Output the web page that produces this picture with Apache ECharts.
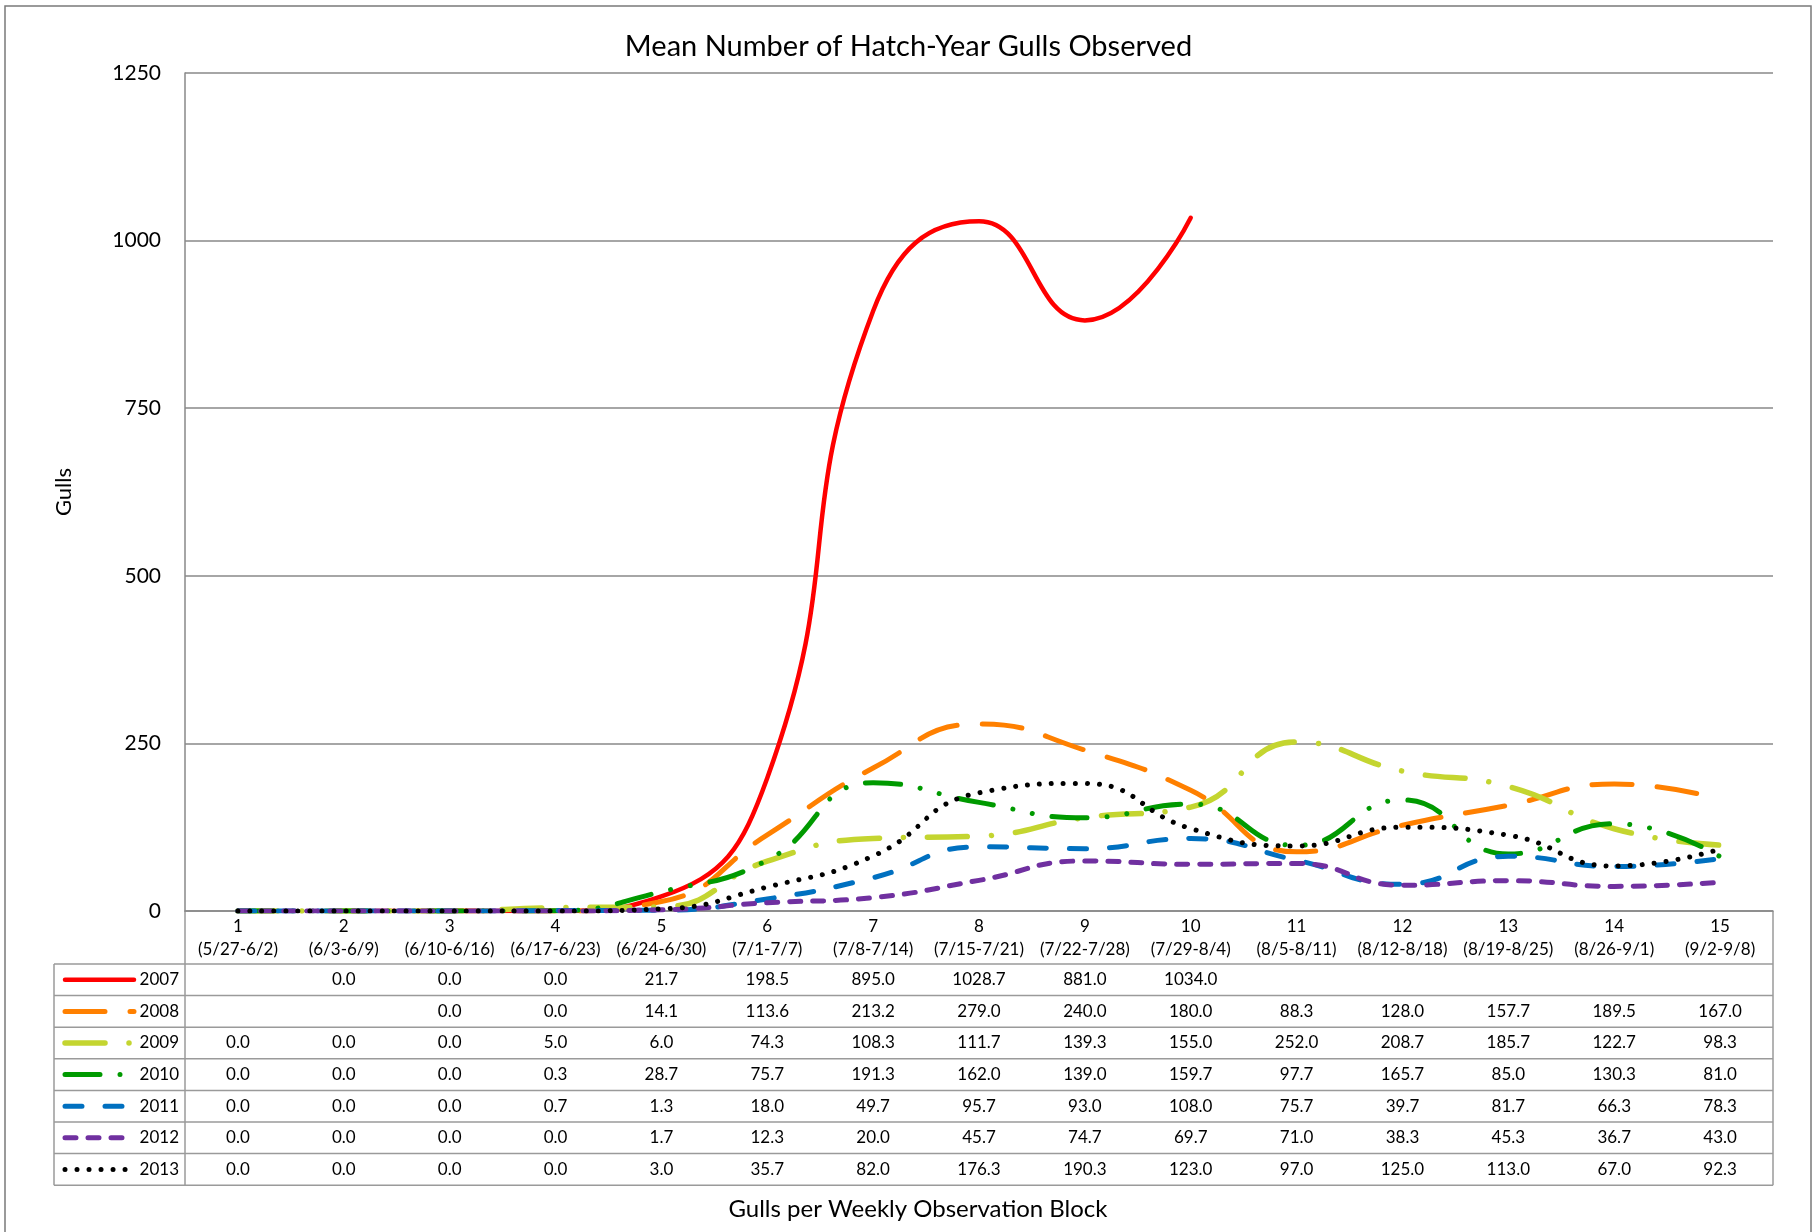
<!DOCTYPE html>
<html>
<head>
<meta charset="utf-8">
<title>Mean Number of Hatch-Year Gulls Observed</title>
<script src="https://cdn.jsdelivr.net/npm/echarts@6/dist/echarts.min.js"></script>
<style>
  html, body { margin: 0; padding: 0; background: #fff; }
  #main { width: 1817px; height: 1232px; }
</style>
</head>
<body>
<div id="main"></div>
<script>
// week blocks
const categories = ['1', '2', '3', '4', '5', '6', '7', '8', '9', '10', '11', '12', '13', '14', '15'];
const dateRanges = ['(5/27-6/2)', '(6/3-6/9)', '(6/10-6/16)', '(6/17-6/23)', '(6/24-6/30)', '(7/1-7/7)',
  '(7/8-7/14)', '(7/15-7/21)', '(7/22-7/28)', '(7/29-8/4)', '(8/5-8/11)', '(8/12-8/18)',
  '(8/19-8/25)', '(8/26-9/1)', '(9/2-9/8)'];
const yTicks = [0, 250, 500, 750, 1000, 1250];
const years = ['2007', '2008', '2009', '2010', '2011', '2012', '2013'];

// mean gulls per week, one array per year (null = not surveyed)
const gulls2007 = [null, 0.0, 0.0, 0.0, 21.7, 198.5, 895.0, 1028.7, 881.0, 1034.0, null, null, null, null, null];
const gulls2008 = [null, null, 0.0, 0.0, 14.1, 113.6, 213.2, 279.0, 240.0, 180.0, 88.3, 128.0, 157.7, 189.5, 167.0];
const gulls2009 = [0.0, 0.0, 0.0, 5.0, 6.0, 74.3, 108.3, 111.7, 139.3, 155.0, 252.0, 208.7, 185.7, 122.7, 98.3];
const gulls2010 = [0.0, 0.0, 0.0, 0.3, 28.7, 75.7, 191.3, 162.0, 139.0, 159.7, 97.7, 165.7, 85.0, 130.3, 81.0];
const gulls2011 = [0.0, 0.0, 0.0, 0.7, 1.3, 18.0, 49.7, 95.7, 93.0, 108.0, 75.7, 39.7, 81.7, 66.3, 78.3];
const gulls2012 = [0.0, 0.0, 0.0, 0.0, 1.7, 12.3, 20.0, 45.7, 74.7, 69.7, 71.0, 38.3, 45.3, 36.7, 43.0];
const gulls2013 = [0.0, 0.0, 0.0, 0.0, 3.0, 35.7, 82.0, 176.3, 190.3, 123.0, 97.0, 125.0, 113.0, 67.0, 92.3];

const allData = [gulls2007, gulls2008, gulls2009, gulls2010, gulls2011, gulls2012, gulls2013];

// line looks (excel-ish dash patterns)
const looks = [
  { color: '#FF0000', width: 4.5, dash: 'solid' },
  { color: '#FF8000', width: 5, dash: [40, 25] },
  { color: '#C4D530', width: 5.5, dash: [40, 24, 0.01, 24] },
  { color: '#009A00', width: 5, dash: [35, 20, 0.01, 20, 0.01, 20] },
  { color: '#0070C0', width: 5, dash: [17, 23] },
  { color: '#7030A0', width: 5, dash: [11, 12] },
  { color: '#000000', width: 5, dash: [0.01, 12] }
];

const FONT = 'Lato, "Open Sans", sans-serif';
const gridColor = '#888888';

const chart = echarts.init(document.getElementById('main'));

const option = {
  backgroundColor: '#ffffff',
  animation: false,
  title: {
    text: 'Mean Number of Hatch-Year Gulls Observed',
    left: 'center',
    top: 27,
    textStyle: { fontFamily: FONT, fontSize: 29, fontWeight: 'normal', color: '#000' }
  },
  grid: { left: 185, right: 44, top: 73, bottom: 321 },
  xAxis: {
    type: 'category',
    data: categories,
    boundaryGap: true,
    axisLine: { show: true, lineStyle: { color: gridColor, width: 1.5 } },
    axisTick: { show: false },
    axisLabel: {
      interval: 0,
      margin: 4,
      color: '#000',
      fontFamily: FONT,
      fontSize: 17,
      lineHeight: 23,
      formatter: (v, i) => v + '\n' + dateRanges[i]
    }
  },
  yAxis: {
    type: 'value',
    min: yTicks[0],
    max: yTicks[yTicks.length - 1],
    interval: 250,
    name: 'Gulls',
    nameLocation: 'middle',
    nameGap: 110,
    nameTextStyle: { fontFamily: FONT, fontSize: 22, color: '#000' },
    axisLine: { show: true, lineStyle: { color: gridColor, width: 1.5 } },
    axisTick: { show: false },
    axisLabel: {
      color: '#000', fontFamily: FONT, fontSize: 21, margin: 24,
      formatter: v => String(v)
    },
    splitLine: { lineStyle: { color: gridColor, width: 1.5 } }
  },
  series: years.map((y, k) => ({
    name: y,
    type: 'line',
    data: allData[k],
    smooth: 0.5,
    symbol: 'none',
    connectNulls: false,
    z: 2 + k,
    lineStyle: {
      color: looks[k].color,
      width: looks[k].width,
      type: looks[k].dash,
      cap: 'round',
      join: 'round'
    }
  }))
};

chart.setOption(option);

// ---- data table under the axis ----
const plotLeft = 185, plotRight = 1773, axisY = 911;
const tableLeft = 54, rowTop = 964, rowH = 31.6;
const tableBottom = rowTop + rowH * years.length;
const lineGray = '#9a9a9a';

const xs = categories.map((c, i) => chart.convertToPixel({ xAxisIndex: 0 }, i));

const els = [];

// outer frame of the chart
els.push({
  type: 'rect', silent: true,
  shape: { x: 5, y: 6, width: 1806, height: 1260 },
  style: { fill: null, stroke: '#7a7a7a', lineWidth: 1.5 }
});

// horizontal rules
for (let r = 0; r <= years.length; r++) {
  const y = rowTop + r * rowH;
  els.push({
    type: 'line', silent: true,
    shape: { x1: tableLeft, y1: y, x2: plotRight, y2: y },
    style: { stroke: lineGray, lineWidth: 1.5 }
  });
}
// vertical rules
els.push({ type: 'line', silent: true, shape: { x1: tableLeft, y1: rowTop, x2: tableLeft, y2: tableBottom }, style: { stroke: lineGray, lineWidth: 1.5 } });
els.push({ type: 'line', silent: true, shape: { x1: plotLeft, y1: axisY, x2: plotLeft, y2: tableBottom }, style: { stroke: lineGray, lineWidth: 1.5 } });
els.push({ type: 'line', silent: true, shape: { x1: plotRight, y1: axisY, x2: plotRight, y2: tableBottom }, style: { stroke: lineGray, lineWidth: 1.5 } });

years.forEach((yr, r) => {
  const cy = rowTop + r * rowH + rowH / 2;
  const lk = looks[r];
  // legend key
  els.push({
    type: 'line', silent: true,
    shape: { x1: 65, y1: cy, x2: 134, y2: cy },
    style: {
      stroke: lk.color, lineWidth: lk.width, lineCap: 'round',
      lineDash: lk.dash === 'solid' ? null : lk.dash
    }
  });
  els.push({
    type: 'text', silent: true,
    style: {
      text: yr, x: 179, y: cy, fill: '#000', font: '17px ' + FONT,
      textAlign: 'right', textVerticalAlign: 'middle', align: 'right', verticalAlign: 'middle'
    }
  });
  // values
  allData[r].forEach((v, i) => {
    if (v === null) return;
    els.push({
      type: 'text', silent: true,
      style: {
        text: v.toFixed(1), x: xs[i], y: cy, fill: '#000', font: '17px ' + FONT,
        textAlign: 'center', textVerticalAlign: 'middle', align: 'center', verticalAlign: 'middle'
      }
    });
  });
});

// axis caption below table
els.push({
  type: 'text', silent: true,
  style: {
    text: 'Gulls per Weekly Observation Block', x: (plotLeft + plotRight) / 2 - 61, y: 1209,
    fill: '#000', font: '24px ' + FONT,
    textAlign: 'center', textVerticalAlign: 'middle', align: 'center', verticalAlign: 'middle'
  }
});

chart.setOption({ graphic: { elements: els } });
</script>
</body>
</html>
